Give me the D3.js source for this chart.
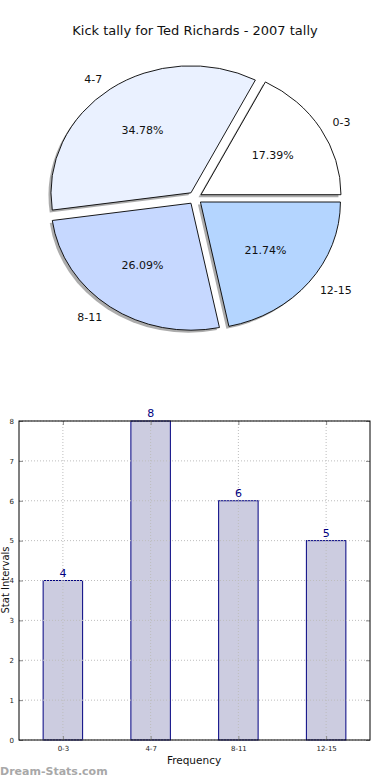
<!DOCTYPE html>
<html><head><meta charset="utf-8">
<script src="https://cdn.jsdelivr.net/npm/d3@7"></script>
<style>body{margin:0;background:#fff}svg{display:block;font-family:"DejaVu Sans",sans-serif}</style>
</head><body><div id="chart"></div>
<script>
const title = "Kick tally for Ted Richards - 2007 tally";
const categories = ["0-3", "4-7", "8-11", "12-15"];
const counts = [4, 8, 6, 5];
const pieColors = ["#ffffff", "#eaf1ff", "#c6d8ff", "#b4d5ff"];
const yTicks = [0, 1, 2, 3, 4, 5, 6, 7, 8];

const W = 390, H = 780;
const svg = d3.select("#chart").append("svg").attr("width", W).attr("height", H);

svg.append("text").attr("x", 195).attr("y", 35).attr("text-anchor", "middle")
  .attr("font-size", 13).attr("fill", "#111").text(title);

// ---- Pie ----
const cx = 195, cy = 198, rx = 140, ry = 127, explode = 0.05;
const total = d3.sum(counts);
const pie = d3.pie().sort(null).startAngle(Math.PI / 2).endAngle(Math.PI / 2 - 2 * Math.PI);
const arcs = pie(counts);
const arc = d3.arc().innerRadius(0).outerRadius(rx);
const sy = ry / rx;
const pg = svg.append("g");

arcs.forEach((a) => {
  const mid = (a.startAngle + a.endAngle) / 2;
  const ux = Math.sin(mid), uy = -Math.cos(mid);
  a.ox = cx + explode * rx * ux; a.oy = cy + explode * ry * uy; a.ux = ux; a.uy = uy;
});
arcs.forEach((a) => {
  pg.append("path").attr("d", arc(a))
    .attr("transform", `translate(${a.ox - 2.5},${a.oy + 2.5}) scale(1,${sy})`)
    .attr("fill", "#5a5a5a").attr("fill-opacity", 0.5);
});
arcs.forEach((a, i) => {
  pg.append("path").attr("d", arc(a))
    .attr("transform", `translate(${a.ox},${a.oy}) scale(1,${sy})`)
    .attr("fill", pieColors[i]).attr("stroke", "#000").attr("stroke-width", 0.9)
    .attr("vector-effect", "non-scaling-stroke").attr("stroke-linejoin", "round");
});
arcs.forEach((a, i) => {
  const lx = a.ox + 1.1 * rx * a.ux, ly = a.oy + 1.1 * ry * a.uy;
  pg.append("text").attr("x", lx).attr("y", ly).attr("dy", "0.35em")
    .attr("text-anchor", a.ux > 0 ? "start" : "end").attr("font-size", 11).attr("fill", "#111")
    .text(categories[i]);
  const px = a.ox + 0.6 * rx * a.ux, py = a.oy + 0.6 * ry * a.uy;
  pg.append("text").attr("x", px).attr("y", py).attr("dy", "0.35em")
    .attr("text-anchor", "middle").attr("font-size", 11).attr("fill", "#111")
    .text((counts[i] / total * 100).toFixed(2) + "%");
});

// ---- Bar chart ----
const L = 19, R = 370, T = 421, B = 740;
const x = d3.scaleLinear().domain([-0.5, categories.length - 0.5]).range([L, R]);
const y = d3.scaleLinear().domain([0, 8]).range([B, T]);
const bw = 0.45;
const bg = svg.append("g");

bg.selectAll(".bar").data(counts).join("rect")
  .attr("x", (d, i) => x(i - bw / 2)).attr("width", x(bw) - x(0))
  .attr("y", d => y(d)).attr("height", d => B - y(d))
  .attr("fill", "#191970").attr("fill-opacity", 0.22)
  .attr("stroke", "#000080").attr("stroke-width", 1);
// grid on top
bg.selectAll(".gx").data(categories).join("line")
  .attr("x1", (d, i) => x(i)).attr("x2", (d, i) => x(i)).attr("y1", T).attr("y2", B)
  .attr("stroke", "#bdbdbd").attr("stroke-width", 1).attr("stroke-dasharray", "1,2");
bg.selectAll(".gy").data(yTicks).join("line")
  .attr("x1", L).attr("x2", R).attr("y1", d => y(d)).attr("y2", d => y(d))
  .attr("stroke", "#bdbdbd").attr("stroke-width", 1).attr("stroke-dasharray", "1,2");

bg.selectAll(".vl").data(counts).join("text")
  .attr("x", (d, i) => x(i)).attr("y", d => y(d) - 4)
  .attr("text-anchor", "middle").attr("font-size", 11).attr("fill", "#000080")
  .text(d => d);

const yAxisL = d3.axisLeft(y).tickValues(yTicks).tickSize(-4).tickPadding(5).tickFormat(d3.format("d"));
const yAxisR = d3.axisRight(y).tickValues(yTicks).tickSize(-4).tickFormat("");
const xAxisB = d3.axisBottom(x).tickValues(d3.range(categories.length)).tickSize(-4).tickPadding(6).tickFormat(i => categories[i]);
const xAxisT = d3.axisTop(x).tickValues(d3.range(categories.length)).tickSize(-4).tickFormat("");
function style(g) {
  g.select(".domain").remove();
  g.selectAll("line").attr("stroke", "#888");
  g.selectAll("text").attr("font-size", 7).attr("fill", "#222").attr("font-family", "DejaVu Sans");
}
bg.append("g").attr("transform", `translate(${L},0)`).call(yAxisL).call(style);
bg.append("g").attr("transform", `translate(${R},0)`).call(yAxisR).call(style);
bg.append("g").attr("transform", `translate(0,${B})`).call(xAxisB).call(style);
bg.append("g").attr("transform", `translate(0,${T})`).call(xAxisT).call(style);
bg.append("rect").attr("x", L).attr("y", T).attr("width", R - L).attr("height", B - T)
  .attr("fill", "none").attr("stroke", "#000").attr("stroke-width", 1);

svg.append("text").attr("x", 194).attr("y", 764).attr("text-anchor", "middle")
  .attr("font-size", 10.5).attr("fill", "#111").text("Frequency");
svg.append("text").attr("transform", `translate(9,580) rotate(-90)`).attr("text-anchor", "middle")
  .attr("font-size", 10).attr("fill", "#111").text("Stat Intervals");
svg.append("text").attr("x", 0).attr("y", 775).attr("font-size", 11).attr("font-weight", "bold")
  .attr("fill", "#a8a8a8").text("Dream-Stats.com");
</script></body></html>
